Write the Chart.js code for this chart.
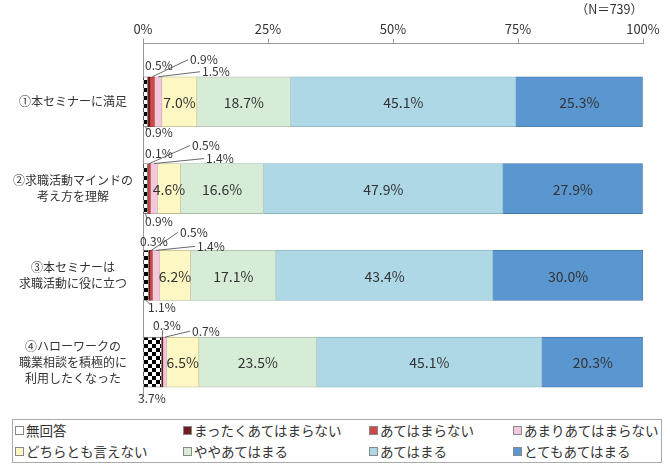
<!DOCTYPE html>
<html>
<head>
<meta charset="utf-8">
<script src="https://cdn.jsdelivr.net/npm/chart.js@4"></script>
<style>
  body { margin: 0; background: #fff; font-family: "Noto Sans CJK JP", sans-serif; }
  #wrap { position: relative; width: 670px; height: 415px; }
  #legende {
    position: absolute; left: 12px; top: 419px; width: 650px; height: 44px;
    border: 1px solid #aaa; box-sizing: border-box;
    display: grid; grid-template-columns: 168px 186px 144px auto;
    grid-auto-rows: 21px; padding: 0 0 0 2px;
    font-size: 13.5px; color: #333; line-height: 21px; white-space: nowrap;
  }
  #legende span.carre {
    display: inline-block; width: 7px; height: 7px; border: 1px solid #888;
    margin-right: 2px; vertical-align: 1px;
  }
</style>
</head>
<body>
<div id="wrap"><canvas id="barCanvas" width="670" height="415"></canvas></div>
<div id="legende"></div>
<script>
// donnees (en %)
const categories = [
    ["①本セミナーに満足"],
    ["②求職活動マインドの", "考え方を理解"],
    ["③本セミナーは", "求職活動に役に立つ"],
    ["④ハローワークの", "職業相談を積極的に", "利用したくなった"]
]
const seriesNames = ["無回答", "まったくあてはまらない", "あてはまらない", "あまりあてはまらない",
    "どちらとも言えない", "ややあてはまる", "あてはまる", "とてもあてはまる"]
const noAnswer = [0.9, 0.9, 1.1, 3.7]
const notAtAll = [0.5, 0.1, 0.3, 0.3]
const notApplicable = [0.9, 0.5, 0.5, 0]
const notReally = [1.5, 1.4, 1.4, 0.7]
const neutral = [7.0, 4.6, 6.2, 6.5]
const somewhat = [18.7, 16.6, 17.1, 23.5]
const applicable = [45.1, 47.9, 43.4, 45.1]
const veryMuch = [25.3, 27.9, 30.0, 20.3]
const xTicks = [0, 25, 50, 75, 100]
const sampleNote = "（N＝739）"

const allSeries = [noAnswer, notAtAll, notApplicable, notReally, neutral, somewhat, applicable, veryMuch]

// couleurs
const couleurs = ["#ffffff", "#6e1f1f", "#cc4a45", "#f4c8dc", "#fdf7c3", "#d7ecd6", "#aed8e5", "#5a96d0"]
const bordures = ["#777", "#5a1818", "#a83a36", "#c9a3b4", "#bdb88f", "#a9bca8", "#8bb3c0", "#46789f"]

const POLICE = "'Noto Sans CJK JP', sans-serif"

// damier noir et blanc pour "無回答"
function damier() {
    const c = document.createElement("canvas")
    c.width = 8; c.height = 8
    const g = c.getContext("2d")
    g.fillStyle = "#fff"; g.fillRect(0, 0, 8, 8)
    g.fillStyle = "#000"; g.fillRect(0, 0, 4, 4); g.fillRect(4, 4, 4, 4)
    return g.createPattern(c, "repeat")
}

// emplacement des petites valeurs: [dataset, dx depuis l'axe, dy depuis le bord de la barre, trait]
const placementPetits = [
    [[0, 2, 6, "dessous"], [1, 2, -11, "aucun"], [2, 47, -17, "gauche"], [3, 59, -5, "gauche"]],
    [[0, 2, 8, "dessous"], [1, 2, -10, "aucun"], [2, 49, -18, "gauche"], [3, 63, -5, "gauche"]],
    [[0, 5, 7, "dessous"], [1, -3, -9, "aucun"], [2, 37, -18, "gauche"], [3, 54, -4, "gauche"]],
    [[0, -5, 11, "aucun"], [1, 10, -12, "bas"], [3, 49, -6, "gauche"]]
]

const pluginEtiquettes = {
    id: "etiquettes",
    afterDatasetsDraw(chart) {
        const ctx = chart.ctx
        const gauche = chart.chartArea.left
        ctx.save()
        ctx.fillStyle = "#333"
        ctx.textBaseline = "middle"
        // valeurs dans les barres
        ctx.font = "14px " + POLICE
        ctx.textAlign = "center"
        for (let d = 4; d < allSeries.length; d++) {
            chart.getDatasetMeta(d).data.forEach((bar, i) => {
                ctx.fillText(allSeries[d][i].toFixed(1) + "%", (bar.x + bar.base) / 2, bar.y + 1)
            })
        }
        // petites valeurs avec traits de rappel
        ctx.font = "12px " + POLICE
        ctx.textAlign = "left"
        ctx.strokeStyle = "#444"
        ctx.lineWidth = 0.8
        placementPetits.forEach((ligne, i) => {
            ligne.forEach(([d, dx, dy, trait]) => {
                const bar = chart.getDatasetMeta(d).data[i]
                const txt = allSeries[d][i].toFixed(1) + "%"
                const haut = bar.y - bar.height / 2
                const bas = bar.y + bar.height / 2
                const sx = (bar.x + bar.base) / 2
                const tx = gauche + dx
                const ty = dy > 0 ? bas + dy : haut + dy
                const w = ctx.measureText(txt).width
                ctx.beginPath()
                if (trait === "gauche") {
                    ctx.moveTo(sx, haut); ctx.lineTo(tx - 2, ty); ctx.stroke()
                } else if (trait === "bas") {
                    ctx.moveTo(sx, haut); ctx.lineTo(tx + w * 0.35, ty + 5); ctx.stroke()
                } else if (trait === "dessous") {
                    ctx.moveTo(sx, bas); ctx.lineTo(tx + 2, ty - 3); ctx.stroke()
                }
                ctx.fillText(txt, tx, ty)
            })
        })
        ctx.restore()
    }
}

function Initialisation() {
    const motif = damier()
    const datasets = allSeries.map((serie, d) => ({
        label: seriesNames[d],
        data: serie.map((v, i) => ({ x: v, y: i })),
        backgroundColor: d === 0 ? motif : couleurs[d],
        borderColor: bordures[d],
        borderWidth: 0.8,
        barThickness: 50
    }))

    new Chart(document.getElementById("barCanvas"), {
        type: "bar",
        data: { datasets: datasets },
        plugins: [pluginEtiquettes],
        options: {
            indexAxis: "y",
            responsive: false,
            animation: false,
            layout: { padding: { left: 10, right: 27, top: 0, bottom: 17 } },
            plugins: {
                legend: { display: false },
                tooltip: { enabled: false },
                title: {
                    display: true, text: sampleNote, align: "end", color: "#333",
                    font: { size: 12.5, family: POLICE, weight: "normal" },
                    padding: { top: 2, bottom: 2 }
                }
            },
            scales: {
                x: {
                    position: "top", stacked: true, min: 0, max: 100,
                    afterBuildTicks: (s) => { s.ticks = xTicks.map(v => ({ value: v })) },
                    ticks: {
                        callback: (v) => v + "%", color: "#333", padding: 2,
                        font: { size: 13, family: POLICE }
                    },
                    grid: { drawOnChartArea: false, drawTicks: true, tickLength: 5, color: "#999" },
                    border: { color: "#999" }
                },
                y: {
                    type: "linear", stacked: true, reverse: true, bounds: "data", offset: false,
                    min: -0.67, max: 3.40,
                    afterBuildTicks: (s) => { s.ticks = categories.map((c, i) => ({ value: i })) },
                    afterFit: (s) => { s.width = 133 },
                    ticks: {
                        callback: (v) => categories[v] || "",
                        crossAlign: "center", padding: 10, color: "#333",
                        font: { size: 12, family: POLICE, lineHeight: 1.35 }
                    },
                    grid: { display: false, drawTicks: false, offset: false },
                    border: { display: true, color: "#999" }
                }
            }
        }
    })

    // legende en 4 colonnes
    const legende = document.getElementById("legende")
    seriesNames.forEach((nom, d) => {
        const item = document.createElement("div")
        const carre = document.createElement("span")
        carre.className = "carre"
        carre.style.background = couleurs[d]
        item.appendChild(carre)
        item.appendChild(document.createTextNode(nom))
        legende.appendChild(item)
    })
}

window.addEventListener("DOMContentLoaded", () => {
    Initialisation()
})
</script>
</body>
</html>
